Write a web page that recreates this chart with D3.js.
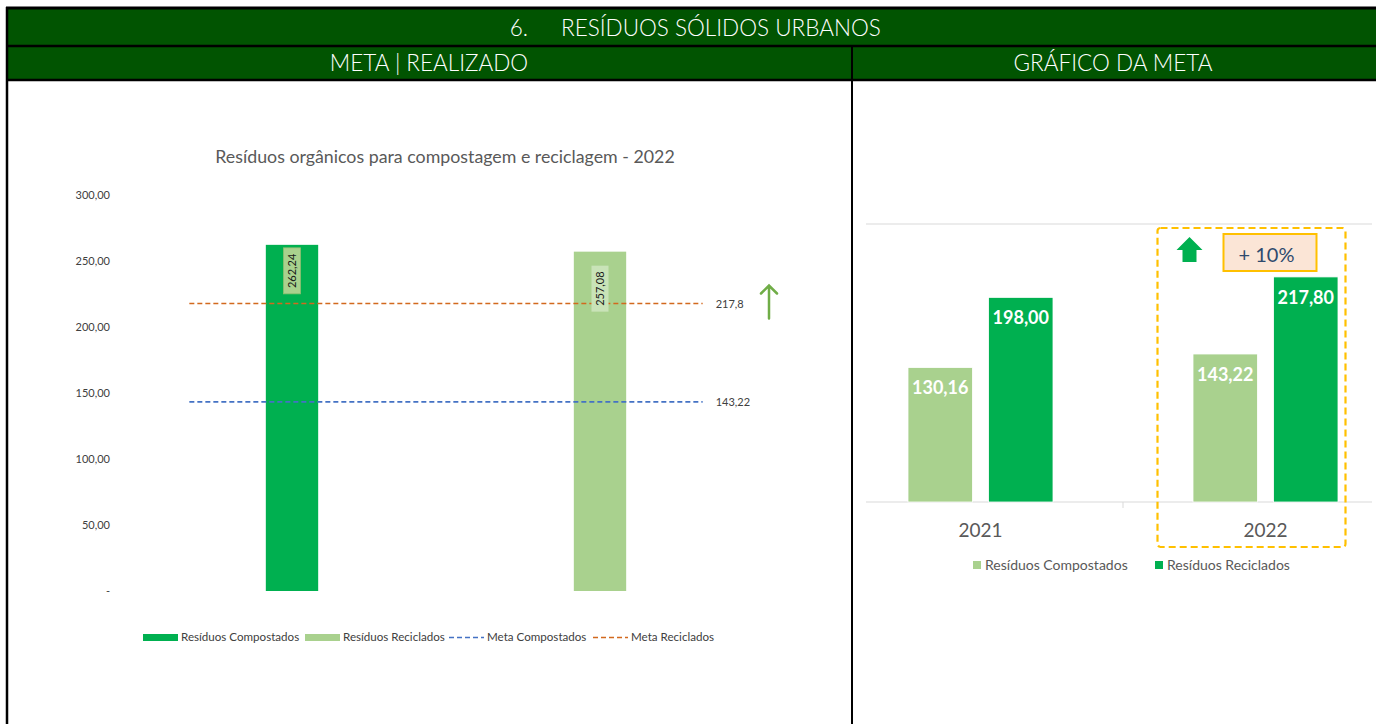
<!DOCTYPE html>
<html>
<head>
<meta charset="utf-8">
<script src="https://cdn.jsdelivr.net/npm/d3@7"></script>
<style>
  html, body { margin: 0; padding: 0; background: #fff; }
  svg { display: block; font-family: Lato, "Open Sans", sans-serif; }
</style>
</head>
<body>
<svg id="chart" width="1376" height="724"></svg>
<script>
// ---- data ----
const series = ["Resíduos Compostados", "Resíduos Reciclados"];
const realizado2022 = [262.24, 257.08];
const metaNames = ["Meta Compostados", "Meta Reciclados"];
const metaValues = [143.22, 217.8];
const leftTicks = [0, 50, 100, 150, 200, 250, 300];

const years = ["2021", "2022"];
const compostados = [130.16, 143.22];
const reciclados = [198.00, 217.80];
const growthLabel = "+ 10%";

const darkGreen = "#00b050", lightGreen = "#a9d18e";
const metaColors = ["#4472c4", "#d2691e"];

const svg = d3.select("#chart");
const fmt = v => d3.format(".2f")(v).replace(".", ",");

// ---- table frame ----
const head = "#015401";
svg.append("rect").attr("x", 7).attr("y", 8).attr("width", 1369).attr("height", 72).attr("fill", head);
svg.append("line").attr("x1", 6).attr("x2", 1376).attr("y1", 8).attr("y2", 8).attr("stroke", "#000").attr("stroke-width", 3);
svg.append("line").attr("x1", 6).attr("x2", 1376).attr("y1", 46).attr("y2", 46).attr("stroke", "#000").attr("stroke-width", 2.5);
svg.append("line").attr("x1", 6).attr("x2", 1376).attr("y1", 80).attr("y2", 80).attr("stroke", "#000").attr("stroke-width", 2.5);
svg.append("line").attr("x1", 7).attr("x2", 7).attr("y1", 7).attr("y2", 724).attr("stroke", "#000").attr("stroke-width", 2.5);
svg.append("line").attr("x1", 852).attr("x2", 852).attr("y1", 46).attr("y2", 724).attr("stroke", "#000").attr("stroke-width", 2);

const hdr = svg.append("g").attr("fill", "#fff").attr("font-size", 22.5).attr("font-weight", 300);
hdr.append("text").attr("x", 528).attr("y", 36).attr("text-anchor", "end").text("6.");
hdr.append("text").attr("x", 561).attr("y", 36).text("RESÍDUOS SÓLIDOS URBANOS");
hdr.append("text").attr("x", 429).attr("y", 71).attr("text-anchor", "middle").text("META | REALIZADO");
hdr.append("text").attr("x", 1113).attr("y", 71).attr("text-anchor", "middle").text("GRÁFICO DA META");

// ---- left chart ----
const L = svg.append("g");
L.append("text").attr("x", 445).attr("y", 163).attr("text-anchor", "middle")
  .attr("font-size", 17.8).attr("fill", "#595959").text("Resíduos orgânicos para compostagem e reciclagem - 2022");

const yL = d3.scaleLinear().domain([0, 300]).range([591, 195]);
const xL = d3.scaleBand().domain(series).range([138, 754]).paddingInner(0.83).paddingOuter(0.415);

const yAxisL = L.append("g").attr("transform", "translate(110,0)")
  .call(d3.axisLeft(yL).tickValues(leftTicks).tickSize(0).tickPadding(0)
    .tickFormat(v => v === 0 ? "-" : fmt(v)));
yAxisL.select(".domain").remove();
yAxisL.selectAll("text").attr("font-size", 11).attr("fill", "#404040").attr("font-family", "Lato, sans-serif");

const barColorsL = [darkGreen, lightGreen];
L.selectAll(".barL").data(realizado2022).join("rect")
  .attr("x", (d, i) => xL(series[i])).attr("width", xL.bandwidth())
  .attr("y", d => yL(d)).attr("height", d => yL(0) - yL(d))
  .attr("fill", (d, i) => barColorsL[i]);

// meta lines
const c0 = xL(series[0]) + xL.bandwidth() / 2, c1 = xL(series[1]) + xL.bandwidth() / 2;
const lx0 = c0 - xL.step() / 3, lx1 = c1 + xL.step() / 3;
metaValues.forEach((v, i) => {
  L.append("line").attr("x1", lx0).attr("x2", lx1).attr("y1", yL(v)).attr("y2", yL(v))
    .attr("stroke", metaColors[i]).attr("stroke-width", 1.7).attr("stroke-dasharray", "5,3");
});
metaValues.forEach((v, i) => {
  L.append("text").attr("x", lx1 + 13).attr("y", yL(v) + 4).attr("font-size", 11).attr("fill", "#404040")
    .text(String(v).replace(".", ","));
});

// rotated data labels
const labelFill = ["#a9d18e", "#c9e3b8"];
const labelOffset = [3, 14];
realizado2022.forEach((v, i) => {
  const cx = xL(series[i]) + xL.bandwidth() / 2;
  const top = yL(v) + labelOffset[i];
  L.append("rect").attr("x", cx - 8.5).attr("y", top).attr("width", 17).attr("height", 46)
    .attr("fill", labelFill[i]).attr("stroke", i === 0 ? "#8fbf6f" : "none").attr("stroke-width", 0.8);
  L.append("text").attr("transform", `translate(${cx + 4},${top + 23}) rotate(-90)`)
    .attr("text-anchor", "middle").attr("font-size", 11).attr("fill", "#1a1a1a").text(fmt(v));
});

// up arrow next to the recycled goal
const ay = yL(metaValues[1]);
L.append("path").attr("d", `M769,${ay + 15} V${ay - 18} M761,${ay - 10} L769,${ay - 18} L777,${ay - 10}`)
  .attr("fill", "none").attr("stroke", "#70ad47").attr("stroke-width", 2.5).attr("stroke-linecap", "round");

// left legend
const legL = [
  { name: series[0], type: "rect", color: darkGreen, x: 143 },
  { name: series[1], type: "rect", color: lightGreen, x: 305 },
  { name: metaNames[0], type: "line", color: metaColors[0], x: 449 },
  { name: metaNames[1], type: "line", color: metaColors[1], x: 593 }
];
legL.forEach(d => {
  if (d.type === "rect") L.append("rect").attr("x", d.x).attr("y", 634).attr("width", 35).attr("height", 7).attr("fill", d.color);
  else L.append("line").attr("x1", d.x).attr("x2", d.x + 35).attr("y1", 637.5).attr("y2", 637.5)
    .attr("stroke", d.color).attr("stroke-width", 1.7).attr("stroke-dasharray", "5,3");
  L.append("text").attr("x", d.x + 38).attr("y", 641).attr("font-size", 11.6).attr("fill", "#404040").text(d.name);
});

// ---- right chart ----
const R = svg.append("g");
const yR = d3.scaleLinear().domain([0, 269]).range([502, 224]);
const xR = d3.scaleBand().domain(years).range([838, 1408]);
const xR1 = d3.scaleBand().domain(["c", "r"]).range([-72.5, 72.5]).paddingInner(0.2);

R.append("line").attr("x1", 866).attr("x2", 1372).attr("y1", yR.range()[1]).attr("y2", yR.range()[1]).attr("stroke", "#d9d9d9");
R.append("line").attr("x1", 866).attr("x2", 1372).attr("y1", yR(0)).attr("y2", yR(0)).attr("stroke", "#d9d9d9");
R.append("line").attr("x1", 1123).attr("x2", 1123).attr("y1", yR(0)).attr("y2", yR(0) + 6).attr("stroke", "#d9d9d9");

const rows = years.map((y, i) => ({ year: y, c: compostados[i], r: reciclados[i] }));
const colorsR = { c: lightGreen, r: darkGreen };
rows.forEach(row => {
  const cx = xR(row.year) + xR.bandwidth() / 2;
  ["c", "r"].forEach(k => {
    const bx = cx + xR1(k);
    R.append("rect").attr("x", bx).attr("width", xR1.bandwidth())
      .attr("y", yR(row[k])).attr("height", yR(0) - yR(row[k]))
      .attr("fill", colorsR[k]).attr("stroke", "#fff").attr("stroke-width", 0.8);
    R.append("text").attr("x", bx + xR1.bandwidth() / 2).attr("y", yR(row[k]) + 27)
      .attr("text-anchor", "middle").attr("font-size", 18).attr("font-weight", 700).attr("fill", "#fff")
      .text(fmt(row[k]));
  });
  R.append("text").attr("x", cx).attr("y", 537).attr("text-anchor", "middle")
    .attr("font-size", 19).attr("fill", "#595959").text(row.year);
});

// highlight around 2022
const hx = xR("2022") + xR.bandwidth() / 2;
R.append("rect").attr("x", hx - 108).attr("y", 228).attr("width", 188).attr("height", 319).attr("rx", 3)
  .attr("fill", "none").attr("stroke", "#ffc000").attr("stroke-width", 2.2).attr("stroke-dasharray", "7,4");
R.append("path").attr("d", `M${hx - 89},250 L${hx - 76},237 L${hx - 63},250 L${hx - 69},250 L${hx - 69},262 L${hx - 83},262 L${hx - 83},250 Z`)
  .attr("fill", darkGreen);
R.append("rect").attr("x", hx - 42).attr("y", 234).attr("width", 93).attr("height", 37)
  .attr("fill", "#fbe5d6").attr("stroke", "#ffc000").attr("stroke-width", 2);
R.append("text").attr("x", hx + 1).attr("y", 262).attr("text-anchor", "middle")
  .attr("font-size", 20).attr("fill", "#2f4a6e").text(growthLabel);

// right legend
const legR = [
  { name: series[0], color: lightGreen, x: 973 },
  { name: series[1], color: darkGreen, x: 1155 }
];
legR.forEach(d => {
  R.append("rect").attr("x", d.x).attr("y", 561).attr("width", 8).attr("height", 8).attr("fill", d.color);
  R.append("text").attr("x", d.x + 12).attr("y", 570).attr("font-size", 14).attr("fill", "#595959").text(d.name);
});
</script>
</body>
</html>
